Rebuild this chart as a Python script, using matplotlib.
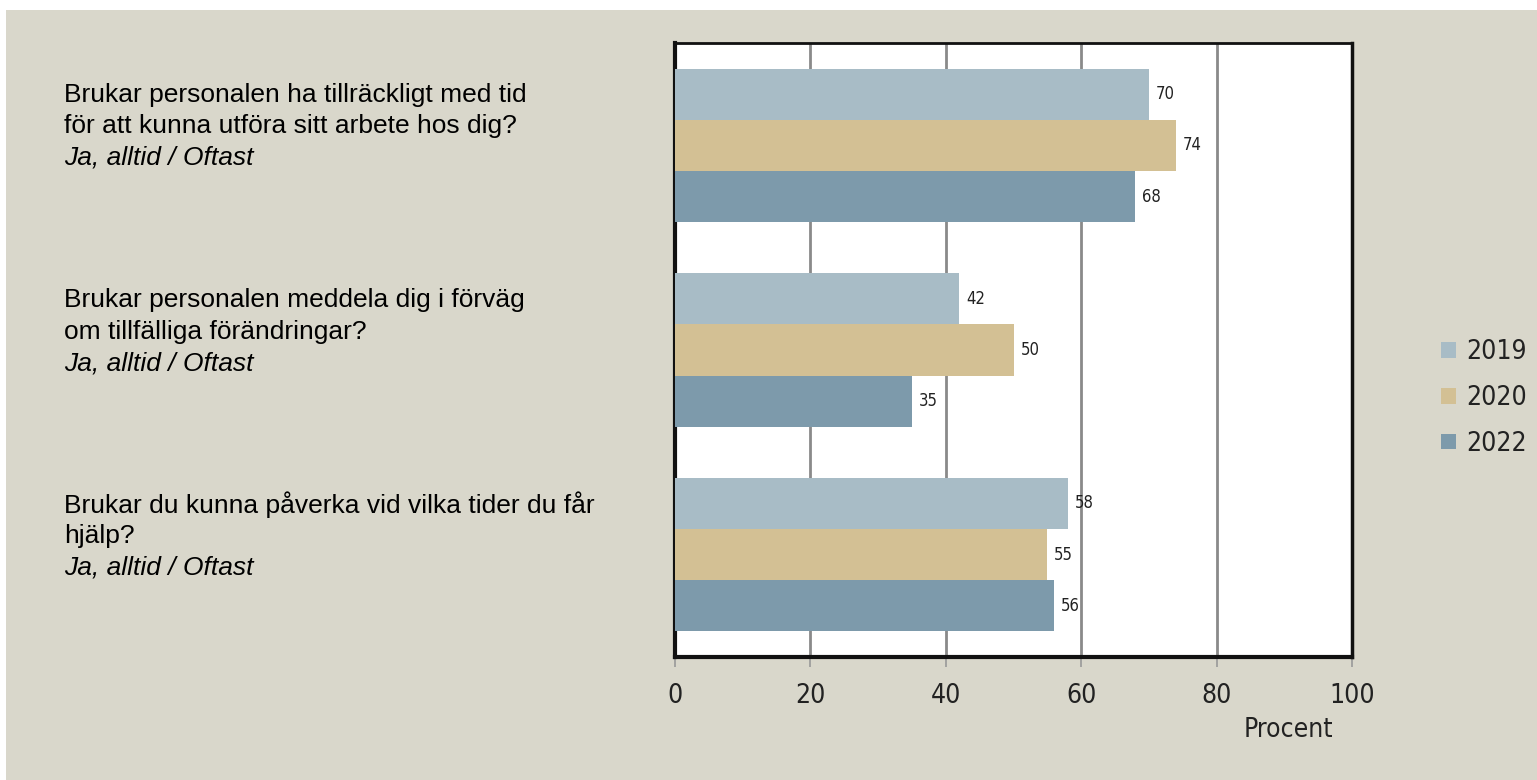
import matplotlib.pyplot as plt
from matplotlib.patches import Rectangle, Patch
from matplotlib import font_manager

# data
questions = [
    ["Brukar personalen ha tillräckligt med tid", "för att kunna utföra sitt arbete hos dig?"],
    ["Brukar personalen meddela dig i förväg", "om tillfälliga förändringar?"],
    ["Brukar du kunna påverka vid vilka tider du får", "hjälp?"],
]
answer = "Ja, alltid / Oftast"
years = ["2019", "2020", "2022"]
v2019 = [70, 42, 58]
v2020 = [74, 50, 55]
v2022 = [68, 35, 56]
series = [v2019, v2020, v2022]
colors = ["#a8bcc6", "#d3c094", "#7d9aab"]

plt.rcParams["font.family"] = ["Liberation Sans", "DejaVu Sans"]
# condensed face for the chart numbers
cond = font_manager.FontProperties(family="DejaVu Sans", stretch="condensed")

bg = "#d9d7cb"
fig = plt.figure(figsize=(15.37, 7.8), dpi=100)
fig.patches.append(Rectangle((6 / 1537, 0), 1, 1 - 10 / 780, transform=fig.transFigure,
                             facecolor=bg, edgecolor="none", zorder=-10))

ax = fig.add_axes([675 / 1537, 1 - 657 / 780, 677 / 1537, 614 / 780])
ax.set_facecolor("white")

h = 0.25
for k, (vals, col, yr) in enumerate(zip(series, colors, years)):
    ys = [i + (k - 1) * h for i in range(len(vals))]
    bars = ax.barh(ys, vals, height=h, color=col, label=yr, zorder=3)
    for b, v in zip(bars, vals):
        ax.annotate(str(v), (v, b.get_y() + h / 2), xytext=(5, 0), textcoords="offset points",
                    va="center", ha="left", fontproperties=cond, fontsize=12,
                    color="#222222", zorder=5)

ax.set_xlim(0, 100)
ax.set_ylim(2.5, -0.5)
ax.set_xticks(range(0, 101, 20))
ax.set_yticks([])
ax.grid(axis="x", color="#8a8a8a", linewidth=2, zorder=1)
ax.tick_params(axis="x", direction="out", length=7, width=1.2, color="#999999",
               pad=12, labelcolor="#222222")
for lab in ax.get_xticklabels():
    lab.set_fontproperties(cond)
    lab.set_fontsize(19)
for side, lw in [("left", 3), ("bottom", 3), ("top", 2), ("right", 2.5)]:
    ax.spines[side].set_linewidth(lw)
    ax.spines[side].set_color("#111111")

fig.text(1288 / 1537, 1 - 730 / 780, "Procent", ha="center", va="center",
         fontproperties=cond, fontsize=19, color="#222222")

# question text on the left
tops = [95, 300, 505]
for q, y0 in zip(questions, tops):
    for j, line in enumerate(q):
        fig.text(64 / 1537, 1 - (y0 + 31.5 * j) / 780, line, ha="left", va="center",
                 fontsize=19, color="black")
    fig.text(64 / 1537, 1 - (y0 + 63) / 780, answer, ha="left", va="center",
             fontsize=19, style="italic", color="black")

handles = [Patch(facecolor=c, edgecolor="none") for c in colors]
lp = cond.copy()
lp.set_size(19)
leg = fig.legend(handles, years, loc="center left", bbox_to_anchor=(1441 / 1537, 1 - 398 / 780),
                 frameon=False, borderpad=0, borderaxespad=0,
                 handlelength=0.55, handleheight=0.55, handletextpad=0.4,
                 labelspacing=0.75, prop=lp)
for t in leg.get_texts():
    t.set_color("#222222")

fig.savefig("out.png", dpi=100, facecolor="white")
